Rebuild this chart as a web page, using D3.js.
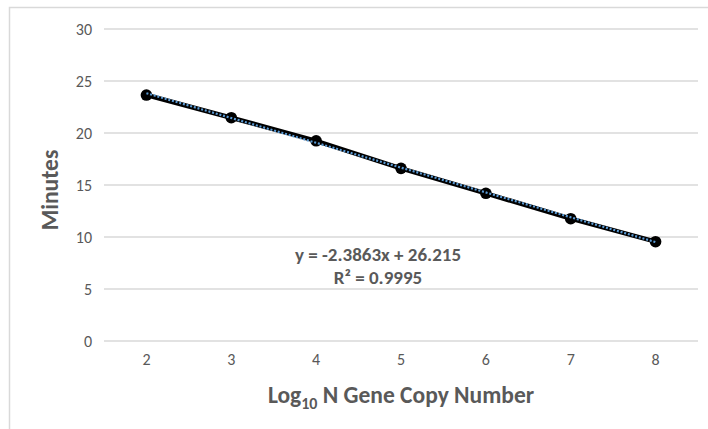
<!DOCTYPE html>
<html><head><meta charset="utf-8">
<script src="https://cdn.jsdelivr.net/npm/d3@7"></script>
<style>body{margin:0;background:#fff;} text{font-family:Carlito,Lato,"Open Sans",sans-serif;}</style>
</head><body>
<svg id="c" width="708" height="429"></svg>
<script>
const categories = ["2","3","4","5","6","7","8"];
const minutes = [23.65, 21.47, 19.25, 16.6, 14.2, 11.76, 9.55];
const yTicks = [0,5,10,15,20,25,30];
const slope = -2.3863, intercept = 26.215, r2 = 0.9995;
const equationLines = ["y = -2.3863x + 26.215", "R² = 0.9995"];

const svg = d3.select("#c");
const W = 708, H = 429;
const m = {left:104, right:10, top:29, bottom:88};
const x = d3.scaleBand().domain(categories).range([m.left, W - m.right]);
const y = d3.scaleLinear().domain([0,30]).range([H - m.bottom, m.top]);
const grey = "#595959";

svg.append("rect").attr("x",9.5).attr("y",7.5).attr("width",720).attr("height",440)
  .attr("fill","#fff").attr("stroke","#d9d9d9").attr("stroke-width",1.5);

// gridlines
svg.append("g").selectAll("line").data(yTicks).join("line")
  .attr("x1", m.left).attr("x2", W - m.right)
  .attr("y1", d => y(d)).attr("y2", d => y(d))
  .attr("stroke","#d9d9d9").attr("stroke-width",1.3);

// y axis labels
const yAxis = d3.axisLeft(y).tickValues(yTicks).tickSize(0).tickPadding(12);
svg.append("g").attr("transform",`translate(${m.left},0)`).call(yAxis)
  .call(g => g.select(".domain").remove())
  .call(g => g.selectAll("text").attr("fill",grey).style("font-size","16px"));

// x axis labels
const xAxis = d3.axisBottom(x).tickSize(0).tickPadding(13);
svg.append("g").attr("transform",`translate(0,${y(0)})`).call(xAxis)
  .call(g => g.select(".domain").remove())
  .call(g => g.selectAll("text").attr("fill",grey).style("font-size","16px"));

const cx = d => x(d) + x.bandwidth()/2;
const pts = categories.map((c,i) => ({c, v: minutes[i]}));

// data line
svg.append("path").datum(pts)
  .attr("fill","none").attr("stroke","#000").attr("stroke-width",4.5)
  .attr("d", d3.line().x(d => cx(d.c)).y(d => y(d.v)));

// markers
svg.append("g").selectAll("circle").data(pts).join("circle")
  .attr("cx", d => cx(d.c)).attr("cy", d => y(d.v)).attr("r",5.8)
  .attr("fill","#000");

// trendline (Excel uses category index 1..n)
const first = categories[0], last = categories[categories.length-1];
svg.append("line")
  .attr("x1", cx(first)).attr("y1", y(slope*1 + intercept))
  .attr("x2", cx(last)).attr("y2", y(slope*categories.length + intercept))
  .attr("stroke","#5b9bd5").attr("stroke-width",2.2).attr("stroke-dasharray","2,1.8");

// equation
const eq = svg.append("text").attr("text-anchor","middle").attr("fill",grey)
  .style("font-size","19px").style("font-weight","bold");
eq.append("tspan").attr("x",378).attr("y",261).text(equationLines[0]);
eq.append("tspan").attr("x",378).attr("y",284).text(equationLines[1]);

// axis titles
svg.append("text").attr("transform","translate(58,190) rotate(-90)")
  .attr("text-anchor","middle").attr("fill",grey)
  .style("font-size","23.5px").style("font-weight","bold").text("Minutes");

const xt = svg.append("text").attr("x",401).attr("y",403).attr("text-anchor","middle")
  .attr("fill",grey).style("font-size","23.5px").style("font-weight","bold");
xt.append("tspan").text("Log");
xt.append("tspan").attr("dy",6).style("font-size","16px").text("10");
xt.append("tspan").attr("dy",-6).text(" N Gene Copy Number");
</script>
</body></html>
